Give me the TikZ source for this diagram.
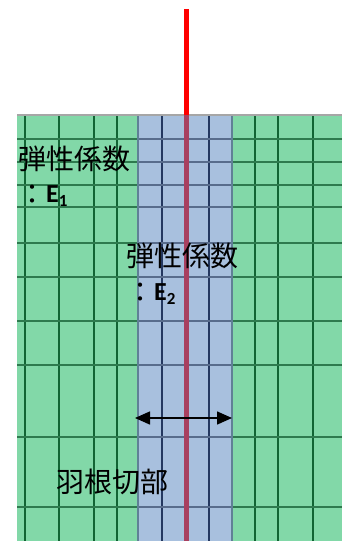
\documentclass[tikz,border=0pt]{standalone}
\usepackage{fontspec}
\newfontfamily\jpfont{Noto Sans CJK JP}
\newfontfamily\calfont{Carlito}
\usetikzlibrary{arrows.meta}
\definecolor{gfill}{RGB}{130,216,168}
\definecolor{bfill}{RGB}{168,192,222}
\definecolor{gvline}{RGB}{18,100,52}
\definecolor{ghline}{RGB}{46,122,78}
\definecolor{bvline}{RGB}{36,56,96}
\definecolor{bhline}{RGB}{88,108,140}
\definecolor{bdline}{RGB}{96,128,150}
\definecolor{redin}{RGB}{168,64,96}
\tikzset{
  gv/.style={draw=gvline, line width=1.3pt},
  gh/.style={draw=ghline, line width=1.8pt},
  bv/.style={draw=bvline, line width=1.1pt},
  bh/.style={draw=bhline, line width=1.8pt},
  bd/.style={draw=bdline, line width=1.8pt},
  lbl/.style={inner sep=0pt, anchor=base west, font=\jpfont\fontsize{28}{28}\selectfont},
  arr/.style={draw=black, line width=1.5pt, {Triangle[length=15pt,width=13pt]}-{Triangle[length=15pt,width=13pt]}}
}
\newcommand{\Esub}[1]{\raisebox{-2pt}{：}{\calfont\bfseries\fontsize{26}{26}\selectfont E}\raisebox{-4pt}{\calfont\bfseries\fontsize{17}{17}\selectfont #1}}
\begin{document}
\begin{tikzpicture}[x=1pt,y=-1pt]
\useasboundingbox (0,0) rectangle (342,541);
\fill[gfill] (17,115) rectangle (342,541);
\fill[bfill] (138,115) rectangle (232,541);
\foreach \x in {25,59,94,117,255,278,313} \draw[gv] (\x,115) -- (\x,541);
\foreach \x in {162,186.5,209} \draw[bv] (\x,115) -- (\x,541);
\foreach \y in {139,162,185,207,243,277,321,365,437,507} {
  \draw[gh] (17,\y) -- (138,\y);
  \draw[gh] (232,\y) -- (342,\y);
  \draw[bh] (138,\y) -- (232,\y);
}
\draw[bd] (138,115) -- (138,541);
\draw[bd] (232,115) -- (232,541);
\draw[draw=gray!70, line width=1.5pt] (17,115) -- (342,115);
\draw[red, line width=5pt] (186.5,9) -- (186.5,115);
\draw[redin, line width=5pt] (186.5,115) -- (186.5,541);
\node[lbl] (e1a) at (18,169) {弾性係数};
\node[lbl] (e1b) at (18,202) {\Esub{1}};
\node[lbl] (e2a) at (126,266) {弾性係数};
\node[lbl] (e2b) at (126,300) {\Esub{2}};
\node[lbl] (cut) at (56,492) {羽根切部};
\coordinate (aL) at (135,418);
\coordinate (aR) at (232,418);
\draw[arr] (aL) -- (aR);
\end{tikzpicture}
\end{document}
